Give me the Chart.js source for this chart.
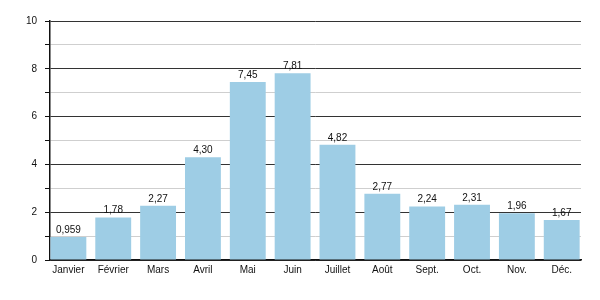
<!DOCTYPE html>
<html>
<head>
<meta charset="utf-8">
<script src="https://cdn.jsdelivr.net/npm/chart.js@4/dist/chart.umd.min.js"></script>
<style>
  html, body { margin: 0; padding: 0; background: #fff; }
  #wrap { width: 600px; height: 300px; }
</style>
</head>
<body>
<div id="wrap"><canvas id="graph"></canvas></div>
<script>
// données
const mois = ["Janvier", "Février", "Mars", "Avril", "Mai", "Juin", "Juillet", "Août", "Sept.", "Oct.", "Nov.", "Déc."];
const valeurs = [0.959, 1.78, 2.27, 4.30, 7.45, 7.81, 4.82, 2.77, 2.24, 2.31, 1.96, 1.67];
const graduations = [0, 2, 4, 6, 8, 10];

const sombre = "#333333";
const clair = "#cfcfcf";

// étiquettes au-dessus des barres
const etiquettes = {
    id: "etiquettes",
    afterDatasetsDraw(chart) {
        const ctx = chart.ctx;
        const meta = chart.getDatasetMeta(0);
        ctx.save();
        ctx.font = "10px 'Liberation Sans', Arial, sans-serif";
        ctx.fillStyle = "#111";
        ctx.textAlign = "center";
        ctx.textBaseline = "alphabetic";
        meta.data.forEach(function (bar, i) {
            const txt = valeurs[i].toPrecision(3).replace(".", ",");
            ctx.fillText(txt, bar.x, bar.y - 4);
        });
        ctx.restore();
    }
};

new Chart(document.getElementById("graph"), {
    type: "bar",
    data: {
        labels: mois,
        datasets: [{
            data: valeurs,
            backgroundColor: "rgb(158,205,229)",
            borderWidth: 0,
            barPercentage: 0.8,
            categoryPercentage: 1
        }]
    },
    options: {
        responsive: true,
        maintainAspectRatio: false,
        animation: false,
        layout: { padding: { top: 21, right: 19, left: 0, bottom: 0 } },
        plugins: {
            legend: { display: false },
            tooltip: { enabled: false }
        },
        scales: {
            x: {
                grid: { display: false, drawTicks: false },
                border: { color: "#111", width: 1.5 },
                ticks: {
                    color: "#111",
                    font: { family: "'Liberation Sans', Arial, sans-serif", size: 10 },
                    padding: 4,
                    maxRotation: 0,
                    autoSkip: false
                },
                afterFit(scale) { scale.height = 40; },
                // les barres débordent un peu des bords comme dans l'original
                afterUpdate(scale) {
                    scale._startValue = -0.41;
                    scale._valueRange = 11.84;
                }
            },
            y: {
                min: 0,
                max: 10,
                border: { color: "#111", width: 1.5 },
                grid: {
                    color: function (c) { return graduations.includes(c.tick.value) ? sombre : clair; },
                    tickColor: "#111",
                    tickLength: 5,
                    lineWidth: 1
                },
                ticks: {
                    stepSize: 1,
                    color: "#111",
                    padding: 8,
                    font: { family: "'Liberation Sans', Arial, sans-serif", size: 10 },
                    callback: function (v) { return graduations.includes(v) ? v : ""; }
                },
                afterFit(scale) { scale.width = 50; }
            }
        }
    },
    plugins: [etiquettes]
});
</script>
</body>
</html>
